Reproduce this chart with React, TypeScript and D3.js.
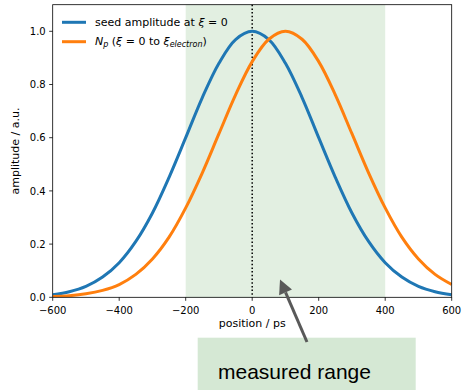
import React from "react";
import * as d3 from "d3";

const positions = [-600,-550,-500,-450,-400,-350,-300,-250,-200,-150,-100,-50,0,50,100,150,200,250,300,350,400,450,500,550,600];
const seedAmp = [0.010,0.021,0.041,0.076,0.130,0.210,0.317,0.451,0.600,0.751,0.880,0.969,1.0,0.969,0.880,0.751,0.600,0.451,0.317,0.210,0.130,0.076,0.041,0.021,0.010];
const npAmp = [0.003,0.006,0.013,0.026,0.048,0.086,0.144,0.226,0.336,0.468,0.615,0.761,0.886,0.970,1.0,0.970,0.886,0.761,0.615,0.468,0.336,0.226,0.144,0.086,0.048];
const xTicks = [-600,-400,-200,0,200,400,600];
const yTicks = [0.0,0.2,0.4,0.6,0.8,1.0];
const measuredRange = [-200, 400];

const W = 462, H = 390;
const L = 52.7, R = 451.7, T = 4.7, B = 297.3;

export default function App() {
  const x = d3.scaleLinear().domain([-600, 600]).range([L, R]);
  const y = d3.scaleLinear().domain([0, 1.1]).range([B, T]);
  const line = (vals: number[]) =>
    d3.line<number>().x((_, i) => x(positions[i])).y((d) => y(d)).curve(d3.curveCatmullRom.alpha(0.5))(vals) || "";
  const fmt = (v: number) => (v < 0 ? "\u2212" + Math.abs(v) : String(v));
  const font = "DejaVu Sans, sans-serif";
  // arrow
  const tail = { x: 307, y: 342 };
  const tip = { x: 280, y: 279.5 };
  const ang = Math.atan2(tip.y - tail.y, tip.x - tail.x);
  const hl = 14, hw = 7;
  const bx = tip.x - hl * Math.cos(ang), by = tip.y - hl * Math.sin(ang);
  const px = -Math.sin(ang), py = Math.cos(ang);
  const head = `M${tip.x},${tip.y}L${bx + hw * px},${by + hw * py}L${bx - hw * px},${by - hw * py}Z`;
  return (
    <svg width={W} height={H} style={{ position: "absolute", left: 0, top: 0, background: "#fff" }} fontFamily={font}>
      <defs>
        <clipPath id="plot"><rect x={L} y={T} width={R - L} height={B - T} /></clipPath>
      </defs>
      <rect x={x(measuredRange[0])} y={T} width={x(measuredRange[1]) - x(measuredRange[0])} height={B - T} fill="#e2efe1" />
      <line x1={x(0)} x2={x(0)} y1={T} y2={B} stroke="#000" strokeWidth={1.5} strokeDasharray="1.5,2.2" />
      <g clipPath="url(#plot)">
        <path d={line(seedAmp)} fill="none" stroke="#1f77b4" strokeWidth={3} />
        <path d={line(npAmp)} fill="none" stroke="#ff7f0e" strokeWidth={3} />
      </g>
      <rect x={L} y={T} width={R - L} height={B - T} fill="none" stroke="#000" strokeWidth={0.8} />
      {xTicks.map((t) => (
        <g key={t}>
          <line x1={x(t)} x2={x(t)} y1={B} y2={B + 3.5} stroke="#000" strokeWidth={0.8} />
          <text x={x(t)} y={314} fontSize={10} textAnchor="middle">{fmt(t)}</text>
        </g>
      ))}
      {yTicks.map((t) => (
        <g key={t}>
          <line x1={L - 3.5} x2={L} y1={y(t)} y2={y(t)} stroke="#000" strokeWidth={0.8} />
          <text x={L - 7} y={y(t) + 3.6} fontSize={10} textAnchor="end">{t.toFixed(1)}</text>
        </g>
      ))}
      <text x={(L + R) / 2} y={327} fontSize={11} textAnchor="middle">position / ps</text>
      <text transform={`translate(18.5,${(T + B) / 2}) rotate(-90)`} fontSize={11} textAnchor="middle">amplitude / a.u.</text>
      {/* legend */}
      <line x1={62} x2={86} y1={22.3} y2={22.3} stroke="#1f77b4" strokeWidth={3} />
      <line x1={62} x2={86} y1={41.7} y2={41.7} stroke="#ff7f0e" strokeWidth={3} />
      <text x={95} y={26} fontSize={11}>seed amplitude at <tspan fontStyle="italic">ξ</tspan> = 0</text>
      <text x={95} y={45.3} fontSize={11}>
        <tspan fontStyle="italic">N</tspan><tspan fontStyle="italic" fontSize={8} dy={2}>p</tspan>
        <tspan dy={-2}> (</tspan><tspan fontStyle="italic">ξ</tspan> = 0 to <tspan fontStyle="italic">ξ</tspan>
        <tspan fontStyle="italic" fontSize={8} dy={2}>electron</tspan><tspan dy={-2}>)</tspan>
      </text>
      {/* annotation */}
      <rect x={197.7} y={337.7} width={218} height={60} fill="#d5e8d4" />
      <line x1={tail.x} y1={tail.y} x2={bx} y2={by} stroke="#595959" strokeWidth={3} />
      <path d={head} fill="#595959" />
      <text x={218} y={379} fontSize={21} fontFamily="Liberation Sans, Arial, sans-serif" fill="#000">measured range</text>
    </svg>
  );
}
